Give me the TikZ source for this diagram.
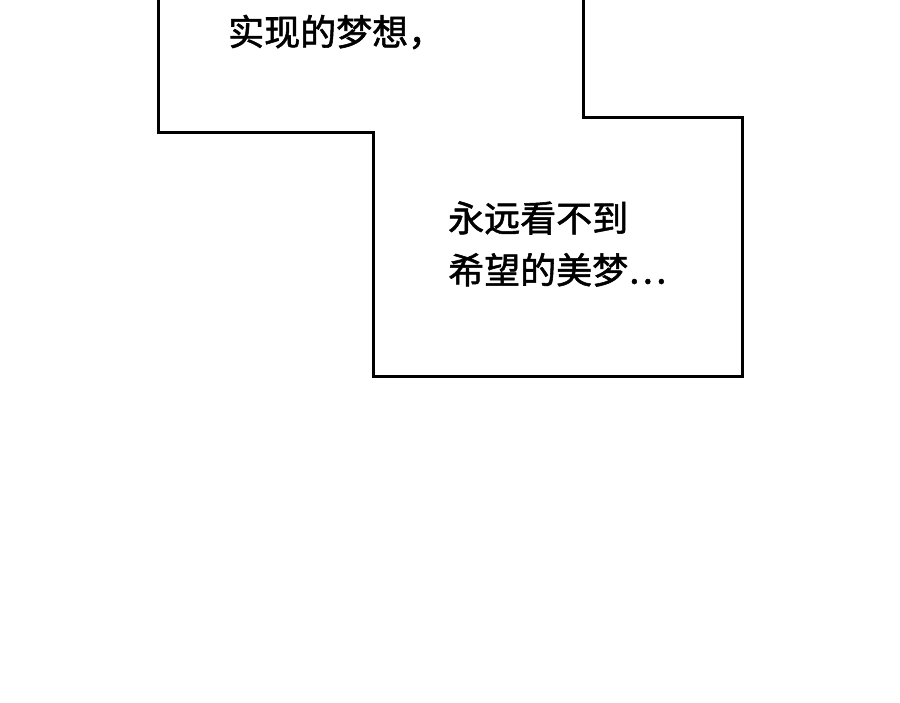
\documentclass[tikz,border=0pt]{standalone}
\usepackage{fontspec}
\newfontfamily\cjk[FakeBold=1.5]{Noto Sans CJK SC}
\begin{document}
\begin{tikzpicture}[x=1pt,y=-1pt,
  txt/.style={font=\cjk\fontsize{36}{52}\selectfont, inner sep=0pt, anchor=west, align=left}]
\useasboundingbox (0,0) rectangle (900,703);
\fill[white] (0,0) rectangle (900,703);
\draw[line width=3pt, fill=white] (158,-5) -- (158,133) -- (373,133) -- (373,377) -- (742,377) -- (742,118) -- (583,118) -- (583,-5);
\node[txt] (t1) at (228,32) {实现的梦想，};
\node[txt] (t2) at (448,244) {永远看不到\\希望的美梦…};
\end{tikzpicture}
\end{document}
